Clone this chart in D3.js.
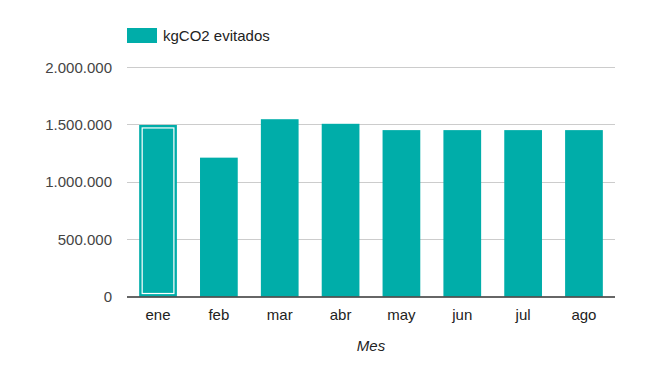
<!DOCTYPE html>
<html>
<head>
<meta charset="utf-8">
<script src="https://cdn.jsdelivr.net/npm/d3@7"></script>
<style>
  body { margin: 0; background: #fff; }
  text { font-family: Arial, "Liberation Sans", sans-serif; }
</style>
</head>
<body>
<div id="chart"></div>
<script>
// data
var vMonths = ["ene", "feb", "mar", "abr", "may", "jun", "jul", "ago"];
var vValues = [1495000, 1210000, 1545000, 1505000, 1450000, 1450000, 1450000, 1450000];
var vTicks = [0, 500000, 1000000, 1500000, 2000000];
var vSeriesName = "kgCO2 evitados";
var vAxisTitle = "Mes";

var vWidth = 670, vHeight = 375;
var vPlot = { left: 127, right: 615, top: 67, bottom: 296.5 };
var cBar = "#00ada9";
var vFont = 15;

var svg = d3.select("#chart")
    .append("svg")
    .attr("width", vWidth)
    .attr("height", vHeight);

var vX = d3.scaleBand()
    .domain(vMonths)
    .range([vPlot.left, vPlot.right])
    .paddingInner(0.38)
    .paddingOuter(0.2);

var vY = d3.scaleLinear()
    .domain([0, 2000000])
    .range([vPlot.bottom, vPlot.top]);

// number format with dots as thousands separator
var fmt = d3.formatLocale({ decimal: ",", thousands: ".", grouping: [3], currency: ["", ""] }).format(",d");

// gridlines
svg.append("g")
    .selectAll("line")
    .data(vTicks.filter(function (d) { return d > 0; }))
    .enter()
    .append("line")
    .attr("x1", vPlot.left)
    .attr("x2", vPlot.right)
    .attr("y1", function (d) { return Math.round(vY(d)) + 0.5; })
    .attr("y2", function (d) { return Math.round(vY(d)) + 0.5; })
    .attr("stroke", "#cccccc")
    .attr("stroke-width", 1);

// y labels
svg.append("g")
    .selectAll("text")
    .data(vTicks)
    .enter()
    .append("text")
    .attr("x", 112)
    .attr("y", function (d) { return vY(d) + 5.5; })
    .attr("text-anchor", "end")
    .attr("font-size", vFont)
    .attr("fill", "#444444")
    .text(fmt);

// bars
svg.append("g")
    .selectAll("rect")
    .data(vValues)
    .enter()
    .append("rect")
    .attr("x", function (d, i) { return vX(vMonths[i]); })
    .attr("y", function (d) { return vY(d); })
    .attr("width", vX.bandwidth())
    .attr("height", function (d) { return vPlot.bottom - vY(d); })
    .attr("fill", cBar);

// selection outline on the first bar
svg.append("rect")
    .attr("x", vX(vMonths[0]) + 3)
    .attr("y", vY(vValues[0]) + 3)
    .attr("width", vX.bandwidth() - 6)
    .attr("height", vPlot.bottom - vY(vValues[0]) - 6)
    .attr("fill", "none")
    .attr("stroke", "#ffffff")
    .attr("stroke-width", 1.2);

// baseline
svg.append("line")
    .attr("x1", vPlot.left)
    .attr("x2", vPlot.right)
    .attr("y1", vPlot.bottom + 0.5)
    .attr("y2", vPlot.bottom + 0.5)
    .attr("stroke", "#333333")
    .attr("stroke-width", 1.5);

// x labels
svg.append("g")
    .selectAll("text")
    .data(vMonths)
    .enter()
    .append("text")
    .attr("x", function (d) { return vX(d) + vX.bandwidth() / 2; })
    .attr("y", 319.5)
    .attr("text-anchor", "middle")
    .attr("font-size", vFont)
    .attr("fill", "#222222")
    .text(function (d) { return d; });

// axis title
svg.append("text")
    .attr("x", (vPlot.left + vPlot.right) / 2)
    .attr("y", 350.8)
    .attr("text-anchor", "middle")
    .attr("font-size", vFont)
    .attr("font-style", "italic")
    .attr("fill", "#222222")
    .text(vAxisTitle);

// legend
svg.append("rect")
    .attr("x", 127)
    .attr("y", 28)
    .attr("width", 30)
    .attr("height", 15)
    .attr("fill", cBar);
svg.append("text")
    .attr("x", 163)
    .attr("y", 40.8)
    .attr("font-size", vFont)
    .attr("fill", "#222222")
    .text(vSeriesName);
</script>
</body>
</html>
